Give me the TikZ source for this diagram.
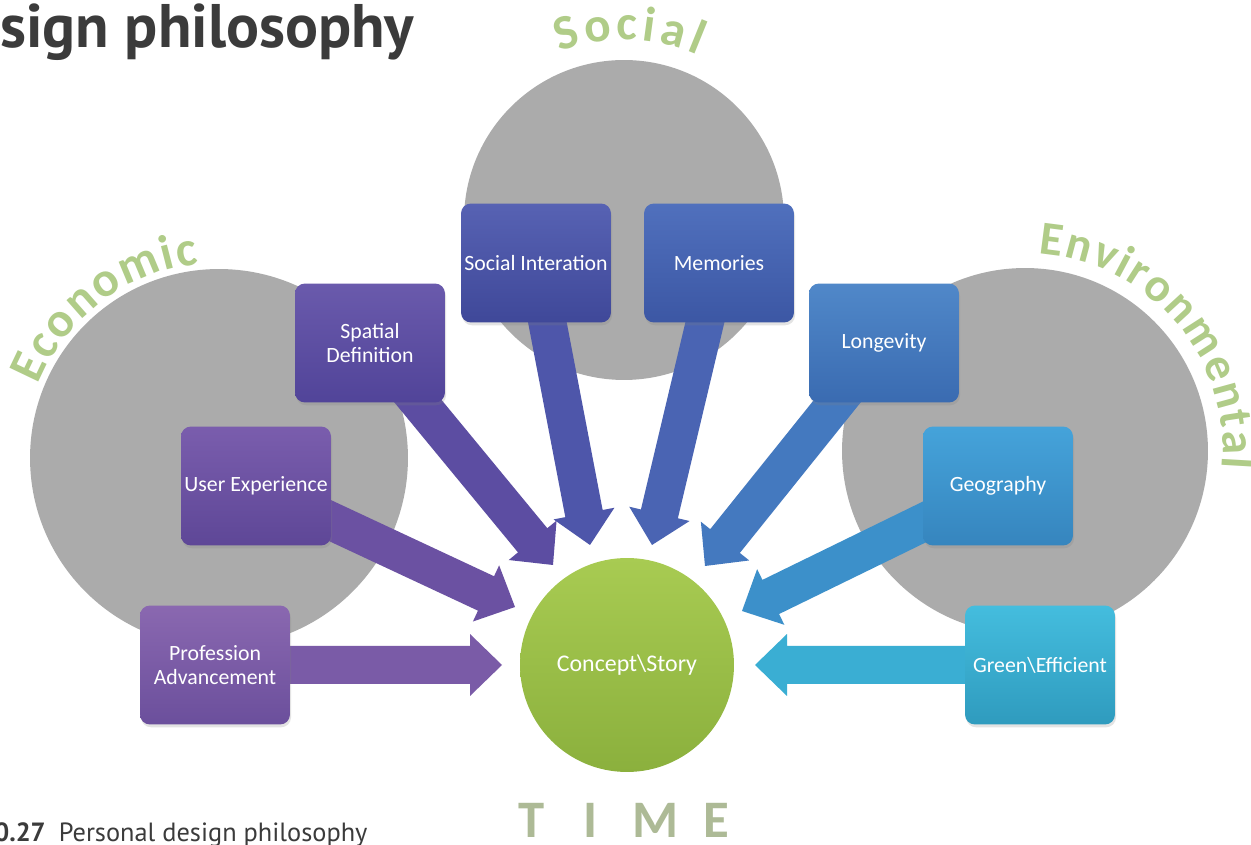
\documentclass[tikz,border=0pt]{standalone}
\usepackage{fontspec}
\setmainfont{Carlito}
\newfontfamily\titlefont{PT Sans}
\usetikzlibrary{calc,decorations.text,shadows}

% palette
\definecolor{disc}{HTML}{ABABAB}
\definecolor{leaf}{HTML}{B0CC88}
\definecolor{timegreen}{HTML}{ADBA96}
\definecolor{ink}{HTML}{3B3B3B}
\definecolor{coreT}{HTML}{A8CB52}
\definecolor{coreB}{HTML}{8BB03D}
\definecolor{c1t}{HTML}{8A68B0}\definecolor{c1b}{HTML}{6B4F9C}\definecolor{c1a}{HTML}{7A5BA7}
\definecolor{c2t}{HTML}{7A5DAD}\definecolor{c2b}{HTML}{5E4797}\definecolor{c2a}{HTML}{6B51A2}
\definecolor{c3t}{HTML}{6A5AAC}\definecolor{c3b}{HTML}{514499}\definecolor{c3a}{HTML}{5C4DA2}
\definecolor{c4t}{HTML}{5762B3}\definecolor{c4b}{HTML}{3F4899}\definecolor{c4a}{HTML}{4E56AA}
\definecolor{c5t}{HTML}{5070BD}\definecolor{c5b}{HTML}{3C57A4}\definecolor{c5a}{HTML}{4A64B3}
\definecolor{c6t}{HTML}{5088C9}\definecolor{c6b}{HTML}{3A6BB1}\definecolor{c6a}{HTML}{4479BF}
\definecolor{c7t}{HTML}{45A3DA}\definecolor{c7b}{HTML}{3685BE}\definecolor{c7a}{HTML}{3C90CA}
\definecolor{c8t}{HTML}{44BDDE}\definecolor{c8b}{HTML}{2F9BBE}\definecolor{c8a}{HTML}{3AAED3}

\newcommand\lblfont{\bfseries\fontsize{28}{28}\selectfont}
\newcommand\envfont{\bfseries\fontsize{27}{27}\selectfont}

% block arrow from #1 to tip #2, filled with colour #3
\newcommand\blockarrow[3]{%
  \coordinate (#2-h) at ($(#2)!0.64cm!(#1)$);
  \fill[#3]
    ($(#1)!0.38cm!90:(#2)$) --
    ($(#2-h)!0.38cm!90:(#2)$) --
    ($(#2-h)!0.62cm!90:(#2)$) --
    (#2) --
    ($(#2-h)!0.62cm!-90:(#2)$) --
    ($(#2-h)!0.38cm!-90:(#2)$) --
    ($(#1)!0.38cm!-90:(#2)$) -- cycle;
}

\tikzset{
  theme/.style={circle, fill=disc, inner sep=0pt},
  factor/.style={rounded corners=0.2cm, minimum width=3cm, minimum height=2.38cm,
    align=center, text=white, inner sep=0pt,
    font=\fontsize{12.4}{13.6}\selectfont,
    top color=#1t, bottom color=#1b,
    drop shadow={opacity=0.22, shadow xshift=0.6pt, shadow yshift=-1.6pt}},
  arc label/.style={decorate, decoration={text along path, text={#1},
    text align={fit to path}, text color=leaf}},
}

\begin{document}
\begin{tikzpicture}[x=0.02cm, y=0.02cm]
\useasboundingbox (0,0) rectangle (1251,845);
\fill[white] (0,0) rectangle (1251,845);

% heading and caption
\node[anchor=base west, inner sep=0pt, text=ink,
      font=\titlefont\bfseries\fontsize{35}{35}\selectfont] (title) at (0,797) {sign philosophy};
\node[anchor=base west, inner sep=0pt, text=ink,
      font=\titlefont\fontsize{15}{15}\selectfont] (caption) at (-6,3)
      {\textbf{0.27}\hspace{0.5em}Personal design philosophy};

% the three themes
\node[theme, minimum size=7.56cm] (econ) at (219,387) {};
\node[theme, minimum size=6.4cm]  (soc)  at (624,625) {};
\node[theme, minimum size=7.32cm] (env)  at (1025,394) {};

\path[arc label={|\lblfont|Economic}] ($(econ.center)+(158:3.9cm)$) arc[start angle=158, end angle=96, radius=3.9cm];
\path[arc label={|\lblfont|Social}] ($(soc.center)+(111:3.6cm)$) arc[start angle=111, end angle=66, radius=3.6cm];
\path[arc label={|\envfont|Environmental}] ($(env.center)+(86:3.96cm)$) arc[start angle=86, end angle=-5, radius=3.96cm];

% centre
\node[circle, minimum size=4.28cm, inner sep=0pt, top color=coreT, bottom color=coreB,
      text=white, font=\fontsize{13.6}{14}\selectfont] (core) at (627,180) {Concept\textbackslash Story};

% arrow tips
\coordinate (tprof) at (502,180);
\coordinate (tuser) at (515,238);
\coordinate (tspat) at (553,280);
\coordinate (tsoci) at (590,300);
\coordinate (tmemo) at (652,300);
\coordinate (tlong) at (705,279);
\coordinate (tgeog) at (742,234);
\coordinate (tgree) at (755,180);

% box centres, so that each arrow can start under its box
\path
  (215,180) coordinate (pprof)
  (256,359) coordinate (puser)
  (370,502) coordinate (pspat)
  (536,582) coordinate (psoci)
  (719,582) coordinate (pmemo)
  (884,502) coordinate (plong)
  (998,359) coordinate (pgeog)
  (1040,180) coordinate (pgree);

\blockarrow{pprof}{tprof}{c1a}
\blockarrow{puser}{tuser}{c2a}
\blockarrow{pspat}{tspat}{c3a}
\blockarrow{psoci}{tsoci}{c4a}
\blockarrow{pmemo}{tmemo}{c5a}
\blockarrow{plong}{tlong}{c6a}
\blockarrow{pgeog}{tgeog}{c7a}
\blockarrow{pgree}{tgree}{c8a}

\node[factor=c1] (prof) at (pprof) {Profession\\Advancement};
\node[factor=c2] (user) at (puser) {User Experience};
\node[factor=c3] (spat) at (pspat) {Spatial\\Definition};
\node[factor=c4] (soci) at (psoci) {Social Interation};
\node[factor=c5] (memo) at (pmemo) {Memories};
\node[factor=c6] (long) at (plong) {Longevity};
\node[factor=c7] (geog) at (pgeog) {Geography};
\node[factor=c8] (gree) at (pgree) {Green\textbackslash Efficient};

% time axis label
\node[anchor=base, inner sep=0pt, text=timegreen, font=\bfseries\fontsize{30}{30}\selectfont] (time)
  at (624,7) {T\hspace{22pt}I\hspace{20pt}M\hspace{14pt}E};
\end{tikzpicture}
\end{document}
